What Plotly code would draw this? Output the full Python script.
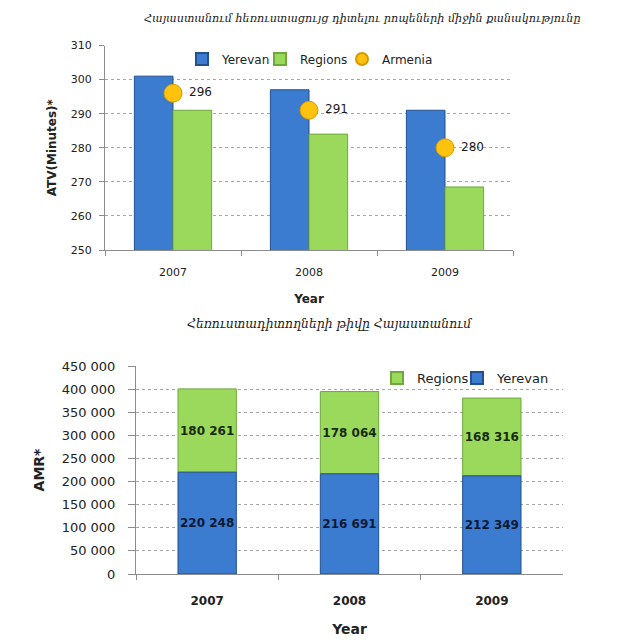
import plotly.graph_objects as go

years = ["2007", "2008", "2009"]
atv_yerevan = [301, 297, 291]
atv_regions = [291, 284, 268.5]
atv_armenia = [296, 291, 280]
amr_yerevan = [220248, 216691, 212349]
amr_regions = [180261, 178064, 168316]

title_top = "Հայաստանում հեռուստացույց դիտելու րոպեների միջին քանակությունը"
title_bottom = "Հեռուստադիտողների թիվը Հայաստանում"

W, H = 619, 643
OFF = 8  # page body margin
def px(x): return (x - OFF) / W
def py(y): return 1 - (y - OFF) / H

BLUE = "#3b7bd0"
BLUE_L = "#23508f"
GREEN = "#9ad95b"
GREEN_L = "#6fa93c"
GOLD = "#ffc20e"
FONT = "DejaVu Sans"

fig = go.Figure()

fig.add_trace(go.Bar(x=years, y=atv_yerevan, name="Yerevan", xaxis="x", yaxis="y",
                     marker=dict(color=BLUE, line=dict(color=BLUE_L, width=1)),
                     width=0.284, offset=-0.284, legend="legend"))
fig.add_trace(go.Bar(x=years, y=atv_regions, name="Regions", xaxis="x", yaxis="y",
                     marker=dict(color=GREEN, line=dict(color=GREEN_L, width=1)),
                     width=0.284, offset=0, legend="legend2"))
fig.add_trace(go.Scatter(x=years, y=atv_armenia, name="Armenia", xaxis="x", yaxis="y",
                         mode="markers+text", text=[" " + str(v) for v in atv_armenia],
                         textposition="middle right",
                         textfont=dict(family=FONT, size=12, color="#1a1a1a"),
                         marker=dict(size=18, color=GOLD, line=dict(color="#d49a00", width=1)),
                         legend="legend3"))

fig.add_trace(go.Bar(x=years, y=amr_regions, base=amr_yerevan, name="Regions", xaxis="x2", yaxis="y2",
                     marker=dict(color=GREEN, line=dict(color=GREEN_L, width=1)),
                     width=0.41, texttemplate="%{y:,}", textposition="inside",
                     insidetextanchor="middle", textangle=0, constraintext="none",
                     textfont=dict(family=FONT, size=12, color="#1a2a10", weight="bold"),
                     legend="legend4"))
fig.add_trace(go.Bar(x=years, y=amr_yerevan, name="Yerevan", xaxis="x2", yaxis="y2",
                     marker=dict(color=BLUE, line=dict(color=BLUE_L, width=1)),
                     width=0.41, texttemplate="%{y:,}", textposition="inside",
                     insidetextanchor="middle", textangle=0, constraintext="none",
                     textfont=dict(family=FONT, size=12, color="#0d1a33", weight="bold"),
                     legend="legend5"))

axis_common = dict(showline=True, linecolor="#8c8c8c", linewidth=1, ticks="outside",
                   tickcolor="#8c8c8c", automargin=False, zeroline=False)

def leg(xm, ym, size):
    return dict(orientation="h", x=px(xm - 20), y=py(ym), xanchor="left", yanchor="middle",
                bgcolor="rgba(255,255,255,0)", font=dict(size=size), itemwidth=30,
                itemsizing="constant")

fig.update_layout(
    width=W, height=H, margin=dict(l=0, r=0, t=0, b=0, autoexpand=False),
    paper_bgcolor="white", plot_bgcolor="white",
    barmode="overlay", separators=". ",
    font=dict(family=FONT, size=11, color="#222222"),
    xaxis=dict(domain=[px(105), px(513)], anchor="y", type="category",
               tickson="boundaries", showgrid=False, tickfont=dict(size=11),
               ticklen=5, ticklabelstandoff=12,
               title=dict(text="Year", font=dict(size=12, weight="bold"), standoff=16),
               **axis_common),
    yaxis=dict(domain=[py(250), py(45.5)], anchor="x", range=[250, 310], dtick=10,
               showgrid=True, gridcolor="#a6a6a6", griddash="dot", gridwidth=1,
               tickfont=dict(size=11), ticklen=5, ticklabelstandoff=5,
               title=dict(text="ATV(Minutes)*", font=dict(size=12, weight="bold"), standoff=11),
               **axis_common),
    xaxis2=dict(domain=[px(136), px(563)], anchor="y2", type="category",
                tickson="boundaries", showgrid=False, ticklen=5,
                tickfont=dict(size=12, weight="bold"), ticklabelstandoff=16,
                title=dict(text="Year", font=dict(size=14, weight="bold"), standoff=16),
                **axis_common),
    yaxis2=dict(domain=[py(574), py(366)], anchor="x2", range=[0, 450000], dtick=50000,
                tickformat=",d", ticklen=7, ticklabelstandoff=10,
                showgrid=True, gridcolor="#a6a6a6", griddash="dot", gridwidth=1,
                tickfont=dict(size=13),
                title=dict(text="AMR*", font=dict(size=14, weight="bold"), standoff=13),
                **axis_common),
    legend=leg(202, 59, 12),
    legend2=leg(280, 59, 12),
    legend3=leg(362, 59, 12),
    legend4=leg(397, 378, 13),
    legend5=leg(477, 378, 13),
    showlegend=True,
)

fig.add_annotation(text=title_top, xref="paper", yref="paper", x=px(362), y=py(18),
                   showarrow=False, xanchor="center", yanchor="middle",
                   font=dict(family="DejaVu Serif", size=11.2, style="italic", color="#222222"))
fig.add_annotation(text=title_bottom, xref="paper", yref="paper", x=px(329), y=py(324),
                   showarrow=False, xanchor="center", yanchor="middle",
                   font=dict(family="DejaVu Serif", size=12.4, style="italic", color="#222222"))

fig.write_html("out.html")
